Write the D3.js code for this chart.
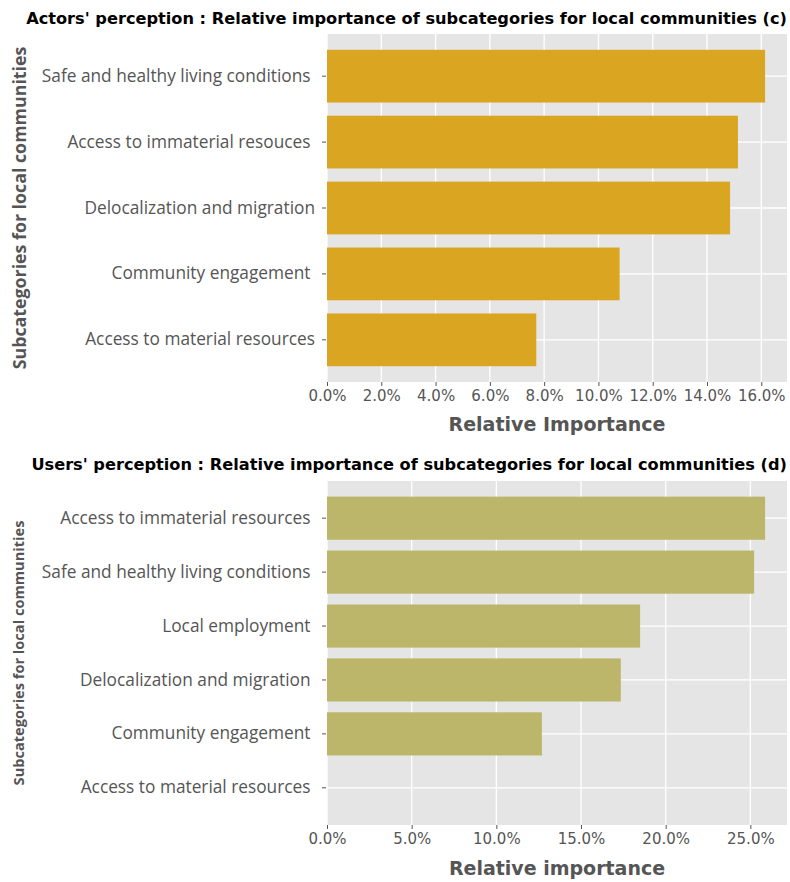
<!DOCTYPE html>
<html>
<head>
<meta charset="utf-8">
<script src="https://cdn.jsdelivr.net/npm/d3@7"></script>
<style>
  html, body { margin: 0; padding: 0; background: #ffffff; }
  svg { display: block; }
  text { white-space: pre; }
</style>
</head>
<body>
<svg id="chart" width="790" height="882"></svg>
<script>
// ---- Data ----
const actorsCategories = [
  "Safe and healthy living conditions ",
  "Access to immaterial resouces ",
  "Delocalization and migration",
  "Community engagement ",
  "Access to material resources"
];
const actorsValues = [0.1614, 0.1514, 0.1485, 0.1078, 0.0771];
const actorsTicks = [0, 0.02, 0.04, 0.06, 0.08, 0.10, 0.12, 0.14, 0.16];

const usersCategories = [
  "Access to immaterial resources ",
  "Safe and healthy living conditions ",
  "Local employment ",
  "Delocalization and migration ",
  "Community engagement ",
  "Access to material resources "
];
const usersValues = [0.2587, 0.2522, 0.1849, 0.1735, 0.1269, 0.0];
const usersTicks = [0, 0.05, 0.10, 0.15, 0.20, 0.25];

const svg = d3.select("#chart");
const TXT = "#555555";
const labelFont = "'Open Sans', 'Noto Sans', sans-serif";
const tickFont = "'DejaVu Sans', sans-serif";

function drawPanel(cfg) {
  const g = svg.append("g");
  const x = d3.scaleLinear()
    .domain([0, d3.max(cfg.values) * 1.05])
    .range([cfg.x0, cfg.x1]);
  const y = d3.scaleBand()
    .domain(cfg.categories)
    .range([cfg.y0, cfg.y1])
    .paddingInner(0.2)
    .paddingOuter(cfg.outer);

  // background
  g.append("rect")
    .attr("x", cfg.x0).attr("y", cfg.y0)
    .attr("width", cfg.x1 - cfg.x0).attr("height", cfg.y1 - cfg.y0)
    .attr("fill", "#e5e5e5");

  // grid
  g.append("g").selectAll("line.v").data(cfg.ticks).join("line")
    .attr("x1", d => x(d)).attr("x2", d => x(d))
    .attr("y1", cfg.y0).attr("y2", cfg.y1)
    .attr("stroke", "#ffffff").attr("stroke-width", 1.3);
  g.append("g").selectAll("line.h").data(cfg.categories).join("line")
    .attr("x1", cfg.x0).attr("x2", cfg.x1)
    .attr("y1", d => y(d) + y.bandwidth() / 2).attr("y2", d => y(d) + y.bandwidth() / 2)
    .attr("stroke", "#ffffff").attr("stroke-width", 1.3);

  // bars
  g.append("g").selectAll("rect").data(cfg.categories).join("rect")
    .attr("x", x(0))
    .attr("y", d => y(d))
    .attr("width", (d, i) => x(cfg.values[i]) - x(0))
    .attr("height", y.bandwidth())
    .attr("fill", cfg.color);

  // x axis
  const xa = g.append("g")
    .attr("transform", `translate(0,${cfg.y1})`)
    .call(d3.axisBottom(x).tickValues(cfg.ticks).tickFormat(d3.format(".1%")).tickSize(4).tickPadding(4));
  xa.select(".domain").remove();
  xa.selectAll(".tick line").attr("stroke", TXT).attr("stroke-width", 1);
  xa.selectAll(".tick text").attr("fill", TXT).attr("font-family", tickFont).attr("font-size", 15);

  // y axis
  const ya = g.append("g")
    .attr("transform", `translate(${cfg.x0 - 1},0)`)
    .call(d3.axisLeft(y).tickSize(4).tickPadding(7));
  ya.select(".domain").remove();
  ya.selectAll(".tick line").attr("stroke", TXT).attr("stroke-width", 1);
  ya.selectAll(".tick text").attr("fill", TXT).attr("font-family", labelFont).attr("font-size", 17.3);

  // x label
  g.append("text")
    .attr("x", (cfg.x0 + cfg.x1) / 2).attr("y", cfg.xLabelY)
    .attr("text-anchor", "middle")
    .attr("font-family", tickFont).attr("font-weight", "bold").attr("font-size", 19)
    .attr("fill", TXT).text(cfg.xLabel);

  // y label
  g.append("text")
    .attr("transform", `translate(${cfg.yLabelX},${(cfg.y0 + cfg.y1) / 2}) rotate(-90)`)
    .attr("text-anchor", "middle")
    .attr("font-family", labelFont).attr("font-weight", "bold").attr("font-size", cfg.yLabelSize)
    .attr("fill", TXT).text("Subcategories for local communities");

  // title
  g.append("text")
    .attr("x", cfg.x1).attr("y", cfg.titleY)
    .attr("text-anchor", "end")
    .attr("font-family", tickFont).attr("font-weight", "bold").attr("font-size", 16.2)
    .attr("fill", "#000000").text(cfg.title);
}

drawPanel({
  categories: actorsCategories, values: actorsValues, ticks: actorsTicks,
  color: "#daa520", x0: 327, x1: 787, y0: 34, y1: 382, outer: 0.24,
  xLabel: "Relative Importance", xLabelY: 431, yLabelX: 26, yLabelSize: 17.8,
  title: "Actors' perception : Relative importance of subcategories for local communities (c)", titleY: 24
});

drawPanel({
  categories: usersCategories, values: usersValues, ticks: usersTicks,
  color: "#bcb66a", x0: 327, x1: 787, y0: 481, y1: 825, outer: 0.29,
  xLabel: "Relative importance", xLabelY: 875, yLabelX: 24, yLabelSize: 14.6,
  title: "Users' perception : Relative importance of subcategories for local communities (d)", titleY: 470
});
</script>
</body>
</html>
